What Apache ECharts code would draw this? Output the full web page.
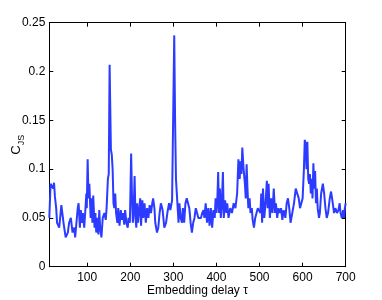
<!DOCTYPE html>
<html>
<head>
<meta charset="utf-8">
<script src="https://cdn.jsdelivr.net/npm/echarts@6/dist/echarts.min.js"></script>
<style>html,body{margin:0;padding:0;background:#fff}#c{width:382px;height:300px}</style>
</head>
<body>
<div id="c"></div>
<script>
var taus = [12,15,18,21,23,25,28,30,35,40,45,50,55,58,62,66,70,72,75,78,80,83,85,88,90,93,96,98,99,101,103,105,108,110,112,114,117,119,121,124,126,128,130,133,136,140,143,145,148,150,152,155,157,159,161,163,165,167,170,172,175,178,180,183,186,188,191,194,196,199,202,204,206,208,210,212,214,216,218,220,223,225,228,230,233,236,239,242,245,248,251,253,256,258,262,265,268,271,275,279,283,286,290,293,297,299,302,304,306,308,310,312,314,317,320,322,325,328,331,334,337,340,343,346,349,352,355,358,361,364,367,370,372,375,378,381,384,387,390,393,396,398,400,402,404,406,408,410,412,415,417,420,423,425,428,432,436,440,444,448,451,454,456,458,460,463,466,468,470,472,474,477,479,482,484,487,490,493,496,499,502,504,506,508,511,514,517,519,521,524,527,530,533,536,538,541,544,547,550,553,556,560,563,566,569,572,576,580,584,588,591,594,597,600,603,605,607,609,611,613,615,617,619,621,623,625,627,629,631,633,635,638,640,643,647,650,653,656,659,663,666,670,673,676,680,683,686,688,691,694,696,698,700];
var cjs = [0.050,0.085,0.086,0.080,0.086,0.072,0.060,0.045,0.040,0.063,0.045,0.030,0.035,0.045,0.050,0.035,0.040,0.030,0.045,0.060,0.065,0.040,0.058,0.045,0.055,0.040,0.060,0.075,0.060,0.110,0.070,0.085,0.050,0.070,0.045,0.073,0.040,0.055,0.035,0.050,0.033,0.058,0.040,0.030,0.050,0.055,0.048,0.060,0.090,0.095,0.207,0.120,0.115,0.100,0.065,0.060,0.075,0.055,0.045,0.060,0.042,0.058,0.048,0.055,0.043,0.058,0.045,0.040,0.050,0.045,0.116,0.070,0.045,0.060,0.093,0.050,0.040,0.065,0.045,0.055,0.070,0.042,0.068,0.050,0.065,0.045,0.060,0.050,0.063,0.055,0.065,0.070,0.060,0.045,0.035,0.040,0.055,0.065,0.058,0.040,0.045,0.055,0.065,0.058,0.068,0.070,0.237,0.150,0.090,0.088,0.060,0.045,0.065,0.050,0.045,0.060,0.045,0.065,0.070,0.072,0.060,0.045,0.035,0.045,0.050,0.060,0.055,0.050,0.048,0.050,0.055,0.058,0.050,0.065,0.045,0.060,0.042,0.060,0.040,0.058,0.050,0.070,0.055,0.068,0.097,0.055,0.080,0.050,0.060,0.097,0.050,0.068,0.055,0.065,0.050,0.060,0.055,0.065,0.060,0.075,0.110,0.090,0.108,0.095,0.122,0.100,0.085,0.070,0.105,0.080,0.060,0.070,0.055,0.060,0.048,0.040,0.050,0.055,0.060,0.058,0.055,0.075,0.045,0.080,0.050,0.065,0.088,0.060,0.085,0.050,0.070,0.055,0.080,0.055,0.065,0.050,0.060,0.055,0.060,0.048,0.058,0.050,0.065,0.070,0.060,0.045,0.055,0.065,0.080,0.082,0.070,0.060,0.065,0.070,0.100,0.130,0.125,0.100,0.128,0.090,0.085,0.095,0.075,0.090,0.070,0.106,0.080,0.098,0.065,0.080,0.060,0.050,0.055,0.075,0.085,0.075,0.060,0.050,0.055,0.070,0.077,0.065,0.055,0.060,0.055,0.058,0.065,0.055,0.050,0.058,0.050,0.060,0.065];
var xTicks = [100,200,300,400,500,600,700];
var xMin = 12, xMax = 700, yMin = 0, yMax = 0.25, yStep = 0.05;

var pts = taus.map(function(t,i){return [t, cjs[i]];});
var font = 'Liberation Sans, Arial, sans-serif';
var chart = echarts.init(document.getElementById('c'), null, {renderer:'canvas'});
var tickStyle = {show:true, inside:true, length:4, lineStyle:{color:'#000', width:1}};
chart.setOption({
  animation:false,
  grid:{left:49.3, right:36.3, top:22.7, bottom:33.3, containLabel:false, outerBoundsMode:'none'},
  xAxis:[{
    type:'value', min:xMin, max:xMax, position:'bottom',
    name:'Embedding delay τ', nameLocation:'middle', nameGap:18, nameMoveOverlap:false,
    nameTextStyle:{fontFamily:font, fontSize:12, color:'#000'},
    axisLine:{show:true, onZero:false, lineStyle:{color:'#000', width:1}},
    axisTick:Object.assign({customValues:xTicks}, tickStyle),
    axisLabel:{customValues:xTicks, fontFamily:font, fontSize:12, color:'#000', margin:5},
    splitLine:{show:false}
  },{
    type:'value', min:xMin, max:xMax, position:'top',
    axisLine:{show:true, onZero:false, lineStyle:{color:'#000', width:1}},
    axisTick:Object.assign({customValues:xTicks}, tickStyle),
    axisLabel:{show:false, customValues:xTicks},
    splitLine:{show:false}
  }],
  yAxis:[{
    type:'value', min:yMin, max:yMax, interval:yStep, position:'left',
    name:'{c|C}{s|JS}', nameLocation:'middle', nameGap:23, nameRotate:90, nameMoveOverlap:false,
    nameTextStyle:{fontFamily:font, color:'#000', rich:{
      c:{fontFamily:font, fontSize:13, color:'#000', lineHeight:20},
      s:{fontFamily:font, fontSize:9, color:'#000', verticalAlign:'bottom'}
    }},
    axisLine:{show:true, onZero:false, lineStyle:{color:'#000', width:1}},
    axisTick:tickStyle,
    axisLabel:{fontFamily:font, fontSize:12, color:'#000', margin:4},
    splitLine:{show:false}
  },{
    type:'value', min:yMin, max:yMax, interval:yStep, position:'right',
    axisLine:{show:true, onZero:false, lineStyle:{color:'#000', width:1}},
    axisTick:tickStyle,
    axisLabel:{show:false},
    splitLine:{show:false}
  }],
  series:[{
    type:'line', data:pts, xAxisIndex:0, yAxisIndex:0,
    showSymbol:false, symbol:'none',
    lineStyle:{color:'#2b3bff', width:2},
    clip:true
  }]
});
</script>
</body>
</html>
